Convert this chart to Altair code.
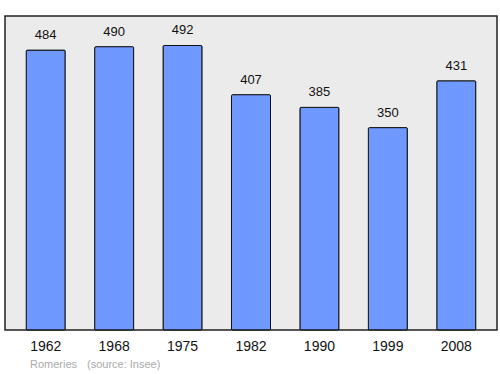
import altair as alt
import pandas as pd

years = ["1962", "1968", "1975", "1982", "1990", "1999", "2008"]
population = [484, 490, 492, 407, 385, 350, 431]
footer_place = ["Romeries", "(source: Insee)"]

df = pd.DataFrame({"year": years, "pop": population})

x = alt.X("year:N", sort=years,
          scale=alt.Scale(paddingInner=0.43, paddingOuter=0.31),
          axis=alt.Axis(title=None, labelAngle=0, domain=False, ticks=False,
                        labelFontSize=14, labelPadding=9, labelColor="#111",
                        labelFont="Liberation Sans"))
y = alt.Y("pop:Q", scale=alt.Scale(domain=[0, 543], nice=False, zero=True),
          axis=None)

base = alt.Chart(df).encode(x=x, y=y)

bars = base.mark_bar(color="#7099ff", stroke="#111", strokeWidth=1,
                     cornerRadius=1)
labels = base.mark_text(dy=-15, fontSize=13, font="Liberation Sans",
                        color="#111").encode(text="pop:Q")

foot = pd.DataFrame({"t": footer_place})
foot_base = alt.Chart(foot).mark_text(align="left", baseline="middle", fontSize=11,
                                      font="Liberation Sans", color="#aaaaaa")
foot1 = foot_base.transform_filter(alt.datum.t == footer_place[0]).encode(
    x=alt.value(25), y=alt.value(349), text="t:N")
foot2 = foot_base.transform_filter(alt.datum.t == footer_place[1]).encode(
    x=alt.value(82), y=alt.value(349), text="t:N")

chart = alt.layer(bars, labels, foot1, foot2).properties(
    width=492, height=314,
    autosize=alt.AutoSizeParams(type="none"),
    padding={"left": 5, "top": 16, "right": 3, "bottom": 44},
    background="white",
).configure_view(fill="#ebebeb", stroke="#222", strokeWidth=1.5)

chart.save("out.html", embed_options={"renderer": "svg", "actions": False})
